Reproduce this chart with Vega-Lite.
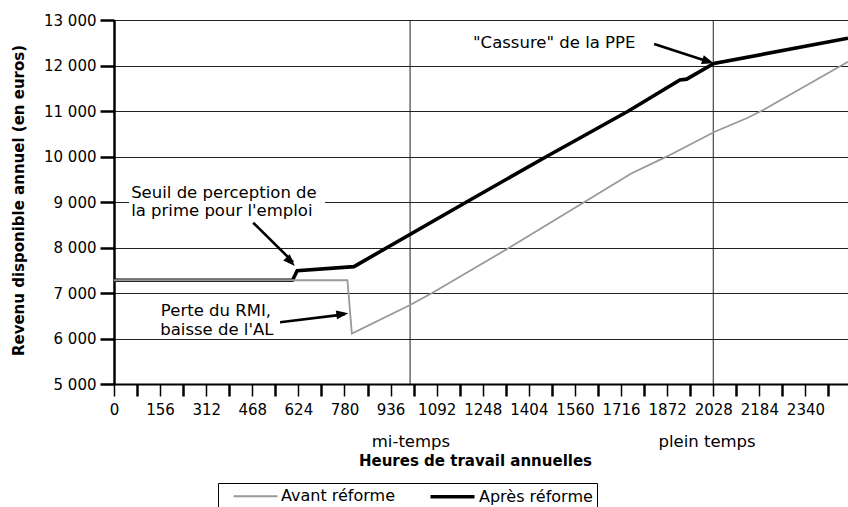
{
  "$schema": "https://vega.github.io/schema/vega-lite/v6.json",
  "width": 734,
  "height": 364,
  "autosize": {"type": "none"},
  "padding": {"left": 114, "top": 20, "right": 0, "bottom": 123},
  "background": "white",
  "config": {
    "font": "DejaVu Sans",
    "view": {"stroke": "#222222", "strokeWidth": 1}
  },
  "datasets": {
    "series": [
      {"h": 0, "revenu": 7280, "serie": "Après réforme"},
      {"h": 604, "revenu": 7280, "serie": "Après réforme"},
      {"h": 620, "revenu": 7490, "serie": "Après réforme"},
      {"h": 812, "revenu": 7580, "serie": "Après réforme"},
      {"h": 1193, "revenu": 9000, "serie": "Après réforme"},
      {"h": 1464, "revenu": 10000, "serie": "Après réforme"},
      {"h": 1741, "revenu": 11000, "serie": "Après réforme"},
      {"h": 1915, "revenu": 11680, "serie": "Après réforme"},
      {"h": 1938, "revenu": 11700, "serie": "Après réforme"},
      {"h": 2030, "revenu": 12045, "serie": "Après réforme"},
      {"h": 2484, "revenu": 12598, "serie": "Après réforme"},
      {"h": 0, "revenu": 7280, "serie": "Avant réforme"},
      {"h": 790, "revenu": 7280, "serie": "Avant réforme"},
      {"h": 805, "revenu": 6110, "serie": "Avant réforme"},
      {"h": 1002, "revenu": 6736, "serie": "Avant réforme"},
      {"h": 1075, "revenu": 6993, "serie": "Avant réforme"},
      {"h": 1340, "revenu": 8004, "serie": "Avant réforme"},
      {"h": 1588, "revenu": 8985, "serie": "Avant réforme"},
      {"h": 1752, "revenu": 9631, "serie": "Avant réforme"},
      {"h": 1870, "revenu": 9996, "serie": "Avant réforme"},
      {"h": 2033, "revenu": 10545, "serie": "Avant réforme"},
      {"h": 2141, "revenu": 10840, "serie": "Avant réforme"},
      {"h": 2197, "revenu": 11022, "serie": "Avant réforme"},
      {"h": 2484, "revenu": 12084, "serie": "Avant réforme"}
    ]
  },
  "encoding": {
    "x": {
      "field": "h", "type": "quantitative",
      "scale": {"domain": [0, 2484], "nice": false, "zero": true},
      "axis": {
        "title": "Heures de travail annuelles",
        "titleFontSize": 15, "titleFontWeight": "bold", "titleColor": "black",
        "titleX": 361, "titleY": 76, "titleBaseline": "middle",
        "values": [0, 78, 156, 234, 312, 390, 468, 546, 624, 702, 780, 858, 936, 1014, 1092, 1170, 1248, 1326, 1404, 1482, 1560, 1638, 1716, 1794, 1872, 1950, 2028, 2106, 2184, 2262, 2340, 2418],
        "labelExpr": "datum.value % 156 === 0 ? format(datum.value, 'd') : ''",
        "grid": false,
        "domainColor": "black", "domainWidth": 2,
        "tickColor": "black",
        "tickSize": 12,
        "tickWidth": {"condition": {"test": "datum.value % 156 === 0", "value": 1.5}, "value": 2.5},
        "labelFontSize": 15, "labelColor": "black", "labelPadding": 6,
        "labelFlush": false, "labelOverlap": false, "labelBound": false
      }
    },
    "y": {
      "field": "revenu", "type": "quantitative",
      "scale": {"domain": [5000, 13000], "nice": false, "zero": false},
      "axis": {
        "title": "Revenu disponible annuel (en euros)",
        "titleFontSize": 15, "titleFontWeight": "bold", "titleColor": "black",
        "titleX": -96, "titleY": 180, "titleBaseline": "middle", "titleAlign": "center", "titleAngle": 270,
        "values": [5000, 6000, 7000, 8000, 9000, 10000, 11000, 12000, 13000],
        "labelExpr": "replace(format(datum.value, ','), ',', ' ')",
        "grid": true, "gridColor": "#222222", "gridWidth": 1, "gridOpacity": 1,
        "domainColor": "black", "domainWidth": 2.5,
        "tickColor": "black", "tickWidth": 2.5, "tickSize": 14,
        "labelPadding": 4, "labelFontSize": 15, "labelColor": "black"
      }
    }
  },
  "layer": [
    {
      "data": {"values": [{"h": 51, "h2": 714, "revenu": 8720, "revenu2": 9280}]},
      "mark": {"type": "rect", "fill": "white"},
      "encoding": {
        "x2": {"field": "h2"},
        "y2": {"field": "revenu2"}
      }
    },
    {
      "data": {"values": [{"h": 1002, "revenu": 5000, "revenu2": 13000}, {"h": 2028, "revenu": 5000, "revenu2": 13000}]},
      "mark": {"type": "rule", "color": "#222222", "strokeWidth": 1},
      "encoding": {
        "y2": {"field": "revenu2"}
      }
    },
    {
      "data": {"name": "series"},
      "transform": [{"filter": "datum.serie === 'Après réforme'"}],
      "mark": {"type": "line", "strokeJoin": "miter"},
      "encoding": {
        "color": {
          "field": "serie", "type": "nominal",
          "scale": {"domain": ["Avant réforme", "Après réforme"], "range": ["#999999", "#000000"]},
          "legend": {"orient": "none", "legendX": 104, "legendY": 463, "direction": "horizontal", "title": null,
            "symbolType": "M-3,0H3", "symbolSize": 215, "labelFontSize": 16, "labelOffset": 17, "columnPadding": 23,
            "padding": 4, "strokeColor": "black", "fillColor": "white", "labelColor": "black", "symbolOffset": 25,
            "symbolStrokeWidth": {"expr": "datum.value === 'Après réforme' ? 5 : 1.5"}}
        },
        "strokeWidth": {
          "field": "serie", "type": "nominal",
          "scale": {"domain": ["Avant réforme", "Après réforme"], "range": [1.8, 3.6]},
          "legend": null
        }
      }
    },
    {
      "data": {"name": "series"},
      "transform": [{"filter": "datum.serie === 'Avant réforme'"}],
      "mark": {"type": "line", "strokeJoin": "miter"},
      "encoding": {
        "color": {"field": "serie", "type": "nominal"},
        "strokeWidth": {"field": "serie", "type": "nominal", "legend": null}
      }
    },
    {
      "data": {"values": [
        {"h": 58, "revenu": 9191, "label": "Seuil de perception de"},
        {"h": 58, "revenu": 8802, "label": "la prime pour l'emploi"},
        {"h": 1215, "revenu": 12501, "label": "\"Cassure\" de la PPE"}
      ]},
      "mark": {"type": "text", "align": "left", "baseline": "middle", "fontSize": 16.5, "color": "black"},
      "encoding": {
        "text": {"field": "label"}
      }
    },
    {
      "data": {"values": [
        {"h": 345, "revenu": 6604, "label": "Perte du RMI,"},
        {"h": 348, "revenu": 6187, "label": "baisse de l'AL"},
        {"h": 1005, "revenu": 3725, "label": "mi-temps"},
        {"h": 2007, "revenu": 3725, "label": "plein temps"}
      ]},
      "mark": {"type": "text", "align": "center", "baseline": "middle", "fontSize": 16.5, "color": "black"},
      "encoding": {
        "text": {"field": "label"}
      }
    },
    {
      "data": {"values": [
        {"h": 471, "revenu": 8545, "h2": 606, "revenu2": 7680},
        {"h": 562, "revenu": 6356, "h2": 780, "revenu2": 6530},
        {"h": 1828, "revenu": 12473, "h2": 2000, "revenu2": 12110}
      ]},
      "mark": {"type": "rule", "color": "black", "strokeWidth": 2.6},
      "encoding": {
        "x2": {"field": "h2"},
        "y2": {"field": "revenu2"}
      }
    },
    {
      "data": {"values": [{"h": 612, "revenu": 7593}]},
      "mark": {"type": "point", "shape": "M0,0L-2,-0.75L-2,0.75Z", "size": 144, "filled": true, "color": "black", "opacity": 1, "angle": 46}
    },
    {
      "data": {"values": [{"h": 793, "revenu": 6554}]},
      "mark": {"type": "point", "shape": "M0,0L-2,-0.75L-2,0.75Z", "size": 144, "filled": true, "color": "black", "opacity": 1, "angle": 352.5}
    },
    {
      "data": {"values": [{"h": 2030, "revenu": 12048}]},
      "mark": {"type": "point", "shape": "M0,0L-2,-0.75L-2,0.75Z", "size": 144, "filled": true, "color": "black", "opacity": 1, "angle": 17.9}
    }
  ]
}
